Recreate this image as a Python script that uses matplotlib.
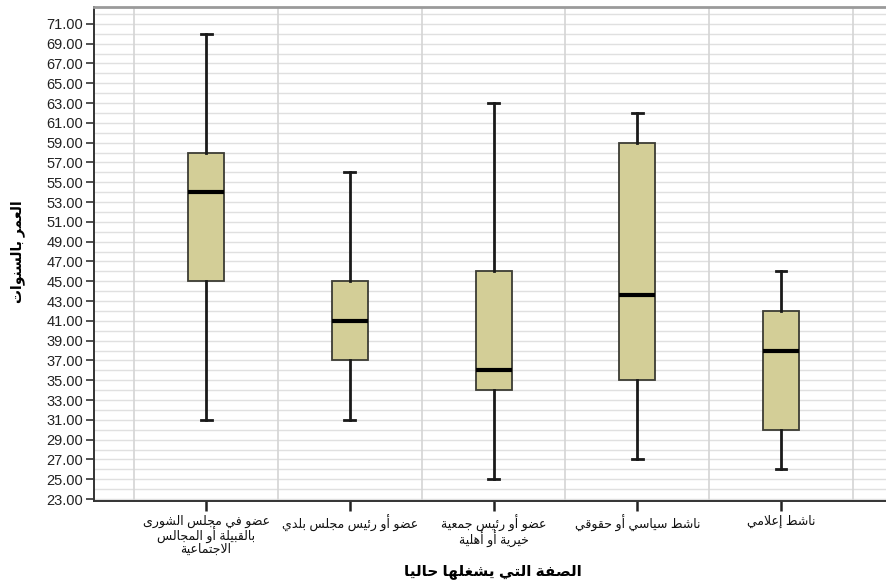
import matplotlib
matplotlib.use("Agg")
import matplotlib.pyplot as plt
import numpy as np

# ---- data -----------------------------------------------------------------
categories = [
    "عضو في مجلس الشورى\nبالقبيلة أو المجالس\nالاجتماعية",
    "عضو أو رئيس مجلس بلدي",
    "عضو أو رئيس جمعية\nخيرية أو أهلية",
    "ناشط سياسي أو حقوقي",
    "ناشط إعلامي",
]
whisker_low = [31, 31, 25, 27, 26]
q1 = [45, 37, 34, 35, 30]
median = [54, 41, 36, 43.6, 38]
q3 = [58, 45, 46, 59, 42]
whisker_high = [70, 56, 63, 62, 46]

y_ticks = np.arange(23, 72, 2)
x_title = "الصفة التي يشغلها حاليا"
y_title = "العمر بالسنوات"


# ---- minimal Arabic shaping (contextual forms + right-to-left order) ------
_order = [("ء", 1), ("آ", 2), ("أ", 2), ("ؤ", 2), ("إ", 2), ("ئ", 4), ("ا", 2),
          ("ب", 4), ("ة", 2), ("ت", 4), ("ث", 4), ("ج", 4), ("ح", 4), ("خ", 4),
          ("د", 2), ("ذ", 2), ("ر", 2), ("ز", 2), ("س", 4), ("ش", 4), ("ص", 4),
          ("ض", 4), ("ط", 4), ("ظ", 4), ("ع", 4), ("غ", 4), ("ف", 4), ("ق", 4),
          ("ك", 4), ("ل", 4), ("م", 4), ("ن", 4), ("ه", 4), ("و", 2), ("ى", 2),
          ("ي", 4)]
_forms = {}
_code = 0xFE80
for ch, n in _order:
    _forms[ch] = (_code, n)
    _code += n
_lamalef = {"آ": 0xFEF5, "أ": 0xFEF7, "إ": 0xFEF9, "ا": 0xFEFB}


def shape_line(text):
    tokens = []
    i = 0
    while i < len(text):
        c = text[i]
        if c == "ل" and i + 1 < len(text) and text[i + 1] in _lamalef:
            tokens.append(("LA", _lamalef[text[i + 1]]))
            i += 2
        else:
            tokens.append(("CH", c))
            i += 1

    def joins_forward(tok):
        return tok[0] == "CH" and tok[1] in _forms and _forms[tok[1]][1] == 4

    def is_letter(tok):
        return tok[0] == "LA" or tok[1] in _forms

    out = []
    for k, tok in enumerate(tokens):
        prev = tokens[k - 1] if k > 0 else None
        nxt = tokens[k + 1] if k + 1 < len(tokens) else None
        jp = prev is not None and joins_forward(prev)
        if tok[0] == "LA":
            out.append(chr(tok[1] + (1 if jp else 0)))
            continue
        c = tok[1]
        if c not in _forms:
            out.append(c)
            continue
        base, n = _forms[c]
        jn = n == 4 and nxt is not None and is_letter(nxt)
        if n == 1:
            out.append(chr(base))
        elif jp and jn:
            out.append(chr(base + 3))
        elif jp:
            out.append(chr(base + 1))
        elif jn:
            out.append(chr(base + 2))
        else:
            out.append(chr(base))
    return "".join(out)[::-1]


def shape(text):
    return "\n".join(shape_line(t) for t in text.split("\n"))


# ---- figure ---------------------------------------------------------------
plt.rcParams["font.family"] = ["Liberation Sans", "DejaVu Sans"]

W, H = 886, 585
fig = plt.figure(figsize=(W / 100, H / 100), dpi=100)
left, right, top, bottom = 94, 886, 7, 501
ax = fig.add_axes([left / W, 1 - bottom / H, (right - left) / W, (bottom - top) / H])

positions = np.arange(len(categories))
stats = [
    {"whislo": lo, "q1": a, "med": m, "q3": b, "whishi": hi, "fliers": []}
    for lo, a, m, b, hi in zip(whisker_low, q1, median, q3, whisker_high)
]
ax.bxp(
    stats,
    positions=positions,
    widths=0.25,
    capwidths=0.075,
    patch_artist=True,
    showfliers=False,
    boxprops=dict(facecolor="#D3CE97", edgecolor="#3c3c34", linewidth=1.3),
    medianprops=dict(color="black", linewidth=3),
    whiskerprops=dict(color="#1a1a1a", linewidth=2),
    capprops=dict(color="#1a1a1a", linewidth=2),
    zorder=3,
)

ax.set_xlim(-0.78, 4.73)
ax.set_ylim(22.8, 72.7)

# grid: every unit horizontally, category separators vertically
for y in np.arange(23, 73, 1):
    ax.axhline(y, color="#e0e0e0", linewidth=1.0, zorder=0)
for x in np.arange(-0.5, 5.0, 1.0):
    ax.axvline(x, color="#d4d4d4", linewidth=1.2, zorder=0)

ax.set_yticks(y_ticks)
ax.set_yticklabels([f"{v:.2f}" for v in y_ticks], fontsize=10.5, color="#222222")
ax.set_xticks(positions)
ax.set_xticklabels([shape(c) for c in categories], fontsize=9,
                   linespacing=0.95, color="#111111")
ax.tick_params(axis="y", length=6, width=1.2, color="#333333", pad=2)
ax.tick_params(axis="x", length=7, width=1.8, color="#222222", pad=3)

for s in ("left", "bottom"):
    ax.spines[s].set_color("#333333")
    ax.spines[s].set_linewidth(1.4)
ax.spines["top"].set_color("#9a9a9a")
ax.spines["top"].set_linewidth(2)
ax.spines["right"].set_visible(False)

fig.text(493 / W, 1 - 572 / H, shape(x_title), ha="center", va="center",
         fontsize=11, fontweight="bold")
fig.text(18 / W, 1 - 252 / H, shape(y_title), ha="center", va="center",
         rotation=90, fontsize=10, fontweight="bold")

fig.savefig("out.png", dpi=100)
